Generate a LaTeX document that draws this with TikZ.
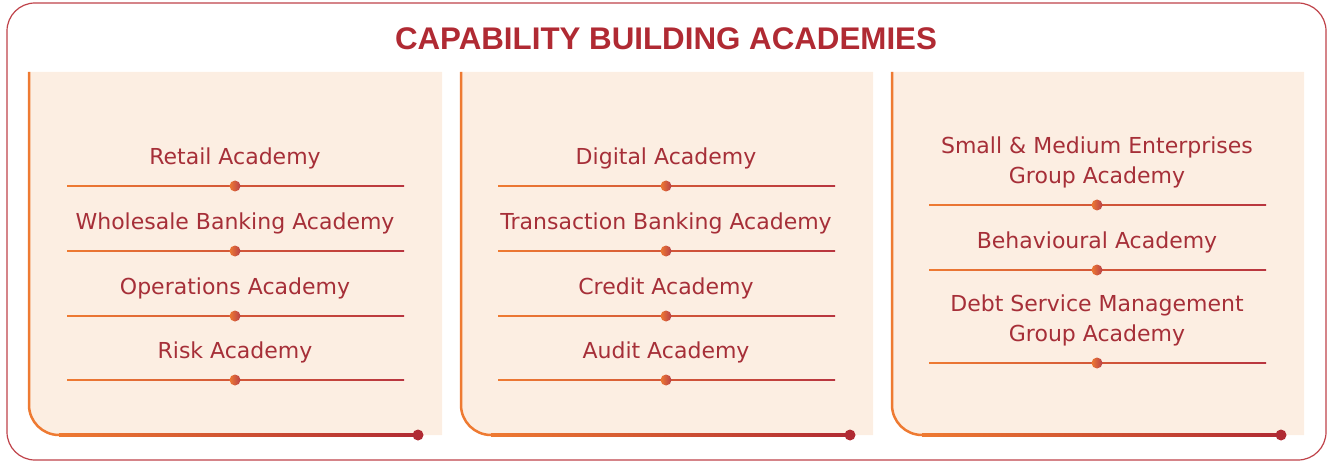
\documentclass[tikz,border=0pt]{standalone}
\usepackage{fontspec}
\setmainfont{DejaVu Sans}
\newfontfamily\titlefont{Liberation Sans}
\usetikzlibrary{positioning}

\definecolor{acadred}{HTML}{B02A33}
\definecolor{acadtext}{HTML}{A62F38}
\definecolor{acadorange}{HTML}{EE7A32}
\definecolor{acadpeach}{HTML}{FCEEE2}
\definecolor{seprose}{HTML}{B8353F}
\definecolor{framered}{HTML}{BF4249}

\tikzset{
  title/.style={text=acadred, font=\titlefont\bfseries\fontsize{31.3}{31}\selectfont},
  academy/.style={text=acadtext, font=\fontsize{22}{30}\selectfont, align=center, inner sep=0pt},
  panel/.style={fill=acadpeach},
  edgeline/.style={draw=acadorange, line width=2.5pt},
  edgefade/.style={left color=acadorange, right color=acadred},
  sepline/.style={left color=acadorange, right color=seprose},
  sepdot/.style={left color=acadorange, right color=acadred!90},
  enddot/.style={fill=acadred}
}

\begin{document}
\begin{tikzpicture}[x=1pt,y=1pt]
	\useasboundingbox (0,0) rectangle (1329,461);
	\draw[framered, line width=1.2pt, rounded corners=28pt] (7,1) rectangle (1326,458);

	\node[title] (title) at (666,422.5) {CAPABILITY BUILDING ACADEMIES};

	% three panels
	\foreach \l/\r/\d in {29/442/418, 461/873/850, 892/1304/1281} {
		\fill[panel] (\r,389) -- (\l,389) -- (\l,56) arc[start angle=180, end angle=270, radius=30] -- (\r,26) -- cycle;
		\draw[edgeline] (\l,389) -- (\l,56) arc[start angle=180, end angle=270, radius=30];
		\shade[edgefade] (\l+30,24.75) rectangle (\d,27.25);
		\coordinate (end-\d) at (\d,26);
		\fill[enddot] (end-\d) circle[radius=5.5];
	}

	% separators
	\coordinate (retail-sep) at (235,275);
	\coordinate (wholesale-sep) at (235,210);
	\coordinate (operations-sep) at (235,145);
	\coordinate (risk-sep) at (235,81);
	\coordinate (digital-sep) at (666,275);
	\coordinate (transaction-sep) at (666,210);
	\coordinate (credit-sep) at (666,145);
	\coordinate (audit-sep) at (666,81);
	\coordinate (sme-sep) at (1097,256);
	\coordinate (behavioural-sep) at (1097,191);
	\coordinate (debt-sep) at (1097,98);

	\node[academy, above=17pt of retail-sep] (retail) {Retail Academy};
	\node[academy, above=17pt of wholesale-sep] (wholesale) {Wholesale Banking Academy};
	\node[academy, above=17pt of operations-sep] (operations) {Operations Academy};
	\node[academy, above=17pt of risk-sep] (risk) {Risk Academy};

	\node[academy, above=17pt of digital-sep] (digital) {Digital Academy};
	\node[academy, above=17pt of transaction-sep] (transaction) {Transaction Banking Academy};
	\node[academy, above=17pt of credit-sep] (credit) {Credit Academy};
	\node[academy, above=17pt of audit-sep] (audit) {Audit Academy};

	\node[academy, above=17pt of sme-sep] (sme) {Small \& Medium Enterprises\\Group Academy};
	\node[academy, above=17pt of behavioural-sep] (behavioural) {Behavioural Academy};
	\node[academy, above=17pt of debt-sep] (debt) {Debt Service Management\\Group Academy};

	\foreach \s in {retail,wholesale,operations,risk,digital,transaction,credit,audit,sme,behavioural,debt} {
		\shade[sepline] ([shift={(-168,-0.75)}]\s-sep) rectangle ([shift={(169,0.75)}]\s-sep);
		\shade[sepdot] (\s-sep) circle[radius=5.5];
	}
\end{tikzpicture}
\end{document}
